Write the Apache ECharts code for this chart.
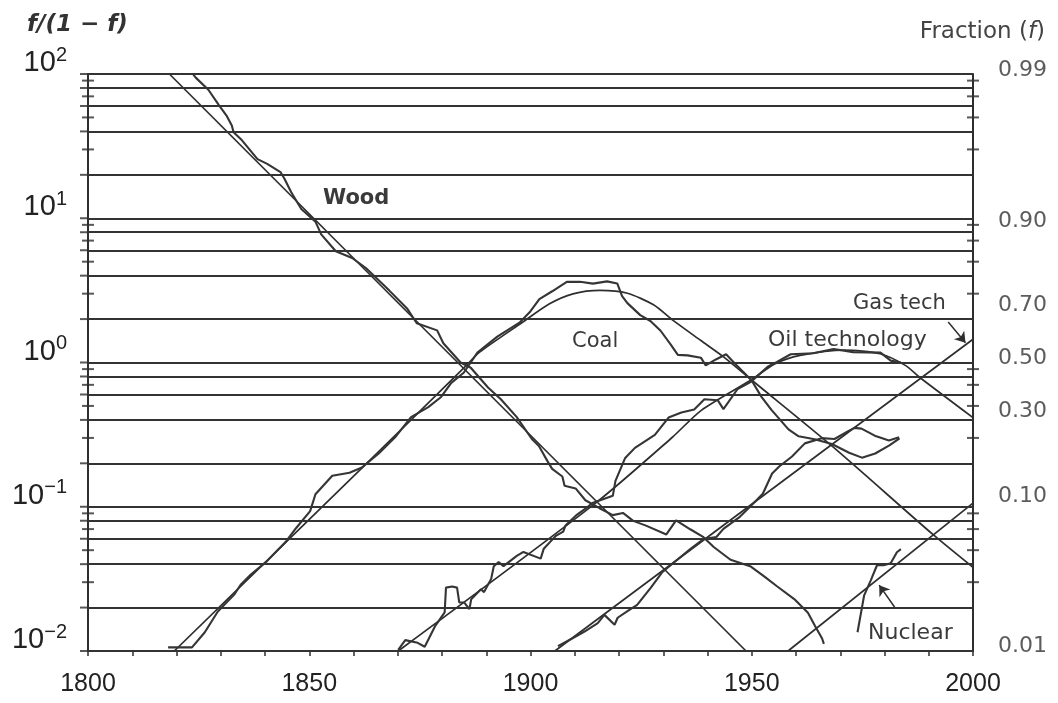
<!DOCTYPE html>
<html>
<head>
<meta charset="utf-8">
<script src="https://cdn.jsdelivr.net/npm/echarts@6/dist/echarts.min.js"></script>
<style>html,body{margin:0;padding:0;background:#fff}#c{width:1058px;height:703px}</style>
</head>
<body>
<div id="c"></div>
<script>
// ---- axis / tick data ----
const xLabels = [1800, 1850, 1900, 1950, 2000];
const gridValues = [0.01,0.02,0.04,0.06,0.08,0.1,0.2,0.4,0.6,0.8,1,2,4,6,8,10,20,40,60,80,100];
const tickValues = [0.03,0.05,0.07,0.09,0.3,0.5,0.7,0.9,3,5,7,9,30,50,70,90];
const fractionTicks = [0.99,0.90,0.70,0.50,0.30,0.10,0.01];
const fractionLabels = ['0.99','0.90','0.70','0.50','0.30','0.10','0.01'];

// ---- fitted logistic curves [year, f/(1-f)] ----
const woodFit = [[1818.4,100],[1948.7,0.01]];
const coalFit = [[1819.5,0.01],[1861.3,0.178],[1885.4,0.948],[1888.5,1.18],[1898.2,1.90],[1904.3,2.55],[1909.6,2.99],[1915.7,3.16],[1921.9,3.02],[1927.8,2.51],[1932.3,1.95],[1938.5,1.42],[1943.7,1.09],[1949.9,0.759],[1968.1,0.264],[1991.0,0.064],[2000,0.038]];
const oilFit = [[1870.1,0.01],[1914.7,0.106],[1932.0,0.302],[1938.6,0.466],[1949.9,0.759],[1955.3,0.98],[1960.9,1.12],[1971.0,1.22],[1979.0,1.15],[1984.7,0.955],[1988.2,0.778],[2000,0.415]];
const gasFit = [[1905.5,0.01],[2000,1.45]];
const nuclearFit = [[1958.2,0.01],[2000,0.106]];

// ---- observed data [year, f/(1-f)] ----
const woodData = [[1823.8,99],[1824.4,94],[1827.2,77.8],[1829.5,61.4],[1831.3,51.5],[1832.5,43.9],[1832.9,39.4],[1834.8,34.7],[1838.3,25.7],[1840.5,23.8],[1843.5,20.9],[1844.4,18.8],[1845.9,15.2],[1848.2,11.6],[1851.4,9.48],[1852.7,7.73],[1856.0,5.90],[1859.7,5.30],[1862.8,4.52],[1865.8,3.69],[1868.1,3.15],[1872.1,2.37],[1874.3,1.87],[1878.9,1.67],[1880.3,1.36],[1884.2,1.00],[1886.5,0.920],[1890.4,0.671],[1893.3,0.556],[1896.9,0.418],[1900.3,0.295],[1901.9,0.264],[1903.8,0.208],[1904.9,0.183],[1907.2,0.162],[1907.7,0.140],[1910.2,0.134],[1912.4,0.111],[1915.6,0.0977],[1918.6,0.0875],[1920.9,0.0906],[1923.2,0.0798],[1926.1,0.0740],[1930.7,0.0643],[1932.9,0.0804],[1936.1,0.0698],[1939.1,0.0615],[1941.4,0.0526],[1945.2,0.0429],[1949.8,0.0385],[1952.8,0.0329],[1955.7,0.0281],[1959.6,0.0229],[1962.7,0.0184],[1964.3,0.0149],[1965.9,0.0122],[1966.3,0.0112]];
const coalData = [[1818.1,0.0106],[1823.5,0.0106],[1826.4,0.0135],[1829.3,0.0187],[1830.8,0.0209],[1833.0,0.0245],[1834.5,0.0288],[1836.8,0.0339],[1840.4,0.0418],[1842.6,0.0491],[1844.8,0.0577],[1847.0,0.0710],[1850.2,0.0933],[1851.4,0.122],[1855.2,0.164],[1859.1,0.172],[1861.9,0.187],[1865.7,0.234],[1869.4,0.303],[1873.0,0.418],[1876.9,0.491],[1879.8,0.577],[1882.1,0.723],[1884.9,0.849],[1888.0,1.17],[1892.5,1.51],[1897.6,1.90],[1899.8,2.23],[1902.0,2.75],[1905.0,3.13],[1908.2,3.62],[1911.2,3.63],[1914.1,3.52],[1917.3,3.65],[1919.6,3.53],[1920.7,2.88],[1921.9,2.58],[1924.8,2.13],[1927.1,1.94],[1929.4,1.66],[1931.7,1.33],[1933.3,1.13],[1935.5,1.12],[1938.5,1.08],[1939.6,0.955],[1941.9,1.05],[1944.2,1.14],[1946.5,0.96],[1949.9,0.757],[1952.2,0.578],[1954.4,0.471],[1958.3,0.344],[1960.6,0.308],[1964.2,0.294],[1968.1,0.272],[1972.0,0.237],[1974.9,0.219],[1977.9,0.234],[1981.1,0.266],[1983.4,0.298]];
const oilData = [[1870.1,0.0102],[1871.7,0.0119],[1874.5,0.0114],[1876.1,0.0107],[1878.4,0.0148],[1880.6,0.0185],[1880.9,0.0275],[1882.3,0.0280],[1883.4,0.0275],[1883.9,0.0217],[1885.0,0.0217],[1886.2,0.0195],[1886.6,0.0228],[1888.8,0.0268],[1889.5,0.0256],[1891.1,0.0315],[1891.7,0.0387],[1892.8,0.0413],[1893.9,0.0388],[1896.9,0.0456],[1898.4,0.0486],[1902.3,0.0437],[1903.0,0.0512],[1904.5,0.0573],[1905.8,0.0631],[1907.4,0.0673],[1907.9,0.0741],[1910.3,0.0871],[1912.5,0.0975],[1914.0,0.106],[1918.6,0.119],[1919.2,0.151],[1921.4,0.218],[1923.6,0.256],[1928.1,0.315],[1931.2,0.415],[1934.1,0.450],[1937.0,0.473],[1939.3,0.556],[1942.3,0.548],[1943.6,0.475],[1946.8,0.655],[1949.8,0.734],[1953.6,0.935],[1955.7,1.01],[1958.8,1.14],[1963.9,1.16],[1968.5,1.24],[1972.9,1.18],[1979.1,1.17],[1981.4,1.03],[1983.7,1.00]];
const gasData = [[1906.2,0.0108],[1909.4,0.0122],[1912.3,0.0137],[1915.2,0.0156],[1916.7,0.0178],[1919.0,0.0152],[1919.7,0.0170],[1922.0,0.0190],[1924.1,0.0209],[1927.2,0.0275],[1929.7,0.0350],[1932.4,0.0411],[1936.1,0.0508],[1939.1,0.0597],[1942.0,0.0617],[1943.6,0.0702],[1947.3,0.0851],[1949.6,0.100],[1952.5,0.123],[1954.6,0.170],[1956.2,0.190],[1959.1,0.223],[1962.0,0.275],[1965.8,0.299],[1968.7,0.295],[1971.9,0.336],[1973.2,0.352],[1974.8,0.348],[1977.8,0.311],[1981.0,0.288],[1983.3,0.303]];
const nuclearData = [[1973.9,0.0135],[1975.4,0.0243],[1976.9,0.0309],[1978.3,0.0393],[1979.8,0.0393],[1981.4,0.0406],[1982.8,0.0484],[1983.7,0.0508]];

// ---- annotation arrows [year, f/(1-f)] ----
const gasArrow = [[1994.4,1.91],[1998.3,1.37]];
const nuclearArrow = [[1982.3,0.0201],[1978.8,0.0286]];

const INK = '#2e2e2e';
const chart = echarts.init(document.getElementById('c'), null, {renderer: 'canvas'});

function lineSeries(name, data, width, smooth, color) {
  return {type: 'line', name: name, data: data, showSymbol: false, symbol: 'none',
    smooth: smooth || false, silent: true, z: 3,
    lineStyle: {color: color || INK, width: width}};
}
function arrowLine(pts) {
  return [{coord: pts[0]}, {coord: pts[1]}];
}

const leftTicks = [];
tickValues.forEach(v => { leftTicks.push([1800, v]); leftTicks.push([2000, v]); });
const gridStubs = [];
gridValues.forEach(v => { gridStubs.push([1800, v]); });

const supText = e => (e < 0 ? '\u2212' + (-e) : String(e));

const option = {
  animation: false,
  backgroundColor: '#fff',
  grid: {left: 88, right: 85, top: 74, bottom: 52},
  xAxis: {
    type: 'value', min: 1800, max: 2000, interval: 10,
    axisLine: {show: true, onZero: false, lineStyle: {color: INK, width: 2}},
    axisTick: {show: true, length: 5, lineStyle: {color: INK, width: 1.5}},
    axisLabel: {margin: 21, fontFamily: 'Liberation Sans', fontSize: 25, color: '#222',
      formatter: v => (xLabels.indexOf(v) >= 0 ? String(v) : '')},
    splitLine: {show: false}
  },
  yAxis: [{
    type: 'log', logBase: 10, min: 0.01, max: 100,
    axisLine: {show: true, onZero: false, lineStyle: {color: INK, width: 2}},
    axisTick: {show: false}, splitLine: {show: false},
    axisLabel: {
      margin: 21, padding: [0, 0, 22, 0], fontSize: 29, fontFamily: 'Liberation Sans', color: '#222',
      formatter: v => '{b|10}{s|' + supText(Math.round(Math.log10(v))) + '}',
      rich: {
        b: {fontFamily: 'Liberation Sans', fontSize: 29, lineHeight: 36, color: '#222'},
        s: {fontFamily: 'Liberation Sans', fontSize: 20, lineHeight: 20, verticalAlign: 'top', color: '#222'}
      }
    }
  }, {
    type: 'log', logBase: 10, min: 0.01, max: 100, position: 'right',
    axisLine: {show: true, onZero: false, lineStyle: {color: INK, width: 2}},
    axisTick: {show: false}, axisLabel: {show: false}, splitLine: {show: false}
  }],
  graphic: [
    {type: 'text', left: 27, top: 14, style: {text: 'f/(1 \u2212 f)', fontFamily: 'DejaVu Sans', fontSize: 23, fontStyle: 'italic', fontWeight: 'bold', fill: '#333'}},
    {type: 'text', right: 13, top: 21, style: {text: 'Fraction ({i|f})', fontFamily: 'DejaVu Sans', fontSize: 23, fill: '#444',
      rich: {i: {fontFamily: 'DejaVu Sans', fontSize: 23, fontStyle: 'italic', fill: '#444'}}}},
    {type: 'text', x: 323, y: 199, style: {text: 'Wood', fontFamily: 'DejaVu Sans', fontSize: 21, fontWeight: 'bold', fill: '#3a3a3a', verticalAlign: 'middle'}},
    {type: 'text', x: 572, y: 342, style: {text: 'Coal', fontFamily: 'DejaVu Sans', fontSize: 21, fill: '#3a3a3a', verticalAlign: 'middle'}},
    {type: 'text', x: 853, y: 304, style: {text: 'Gas tech', fontFamily: 'DejaVu Sans', fontSize: 21, fill: '#3a3a3a', verticalAlign: 'middle'}},
    {type: 'text', x: 768, y: 340, style: {text: 'Oil technology', fontFamily: 'DejaVu Sans', fontSize: 22, fill: '#3a3a3a', verticalAlign: 'middle'}},
    {type: 'text', x: 868, y: 633, style: {text: 'Nuclear', fontFamily: 'DejaVu Sans', fontSize: 22, fill: '#3a3a3a', verticalAlign: 'middle'}}
  ],
  series: [
    {
      type: 'scatter', name: 'ticks', data: leftTicks, symbol: 'rect', symbolSize: [12, 2],
      itemStyle: {color: INK}, silent: true, z: 2,
      markLine: {
        silent: true, symbol: ['none', 'none'], label: {show: false},
        lineStyle: {color: '#333', width: 2, type: 'solid'},
        emphasis: {disabled: true},
        data: gridValues.map(v => ({yAxis: v}))
      }
    },
    {
      type: 'scatter', name: 'gridStubs', data: gridStubs, symbol: 'rect', symbolSize: [8, 2],
      symbolOffset: [-4, 0], itemStyle: {color: INK}, silent: true, z: 2
    },
    {
      type: 'scatter', name: 'fractionLabels', silent: true, symbolSize: 0,
      data: fractionTicks.map(f => [2000, f / (1 - f)]),
      label: {show: true, position: 'right', distance: 25, offset: [0, -4],
        fontFamily: 'DejaVu Sans', fontSize: 22, color: '#333',
        formatter: p => fractionLabels[p.dataIndex]}
    },
    lineSeries('Wood fit', woodFit, 1.7),
    lineSeries('Coal fit', coalFit, 1.7, 0.25),
    lineSeries('Oil fit', oilFit, 1.7, 0.25),
    Object.assign(lineSeries('Gas fit', gasFit, 1.7), {
      markLine: {silent: true, symbol: ['none', 'arrow'], symbolSize: 10, label: {show: false},
        lineStyle: {color: INK, width: 1.5, type: 'solid'}, data: [arrowLine(gasArrow)]}
    }),
    Object.assign(lineSeries('Nuclear fit', nuclearFit, 1.7), {
      markLine: {silent: true, symbol: ['none', 'arrow'], symbolSize: 10, label: {show: false},
        lineStyle: {color: INK, width: 1.5, type: 'solid'}, data: [arrowLine(nuclearArrow)]}
    }),
    lineSeries('Wood', woodData, 2.1, false, '#353535'),
    lineSeries('Coal', coalData, 2.1, false, '#353535'),
    lineSeries('Oil', oilData, 2.1, false, '#353535'),
    lineSeries('Gas', gasData, 2.1, false, '#353535'),
    lineSeries('Nuclear', nuclearData, 2.1, false, '#353535')
  ]
};
chart.setOption(option);
</script>
</body>
</html>
